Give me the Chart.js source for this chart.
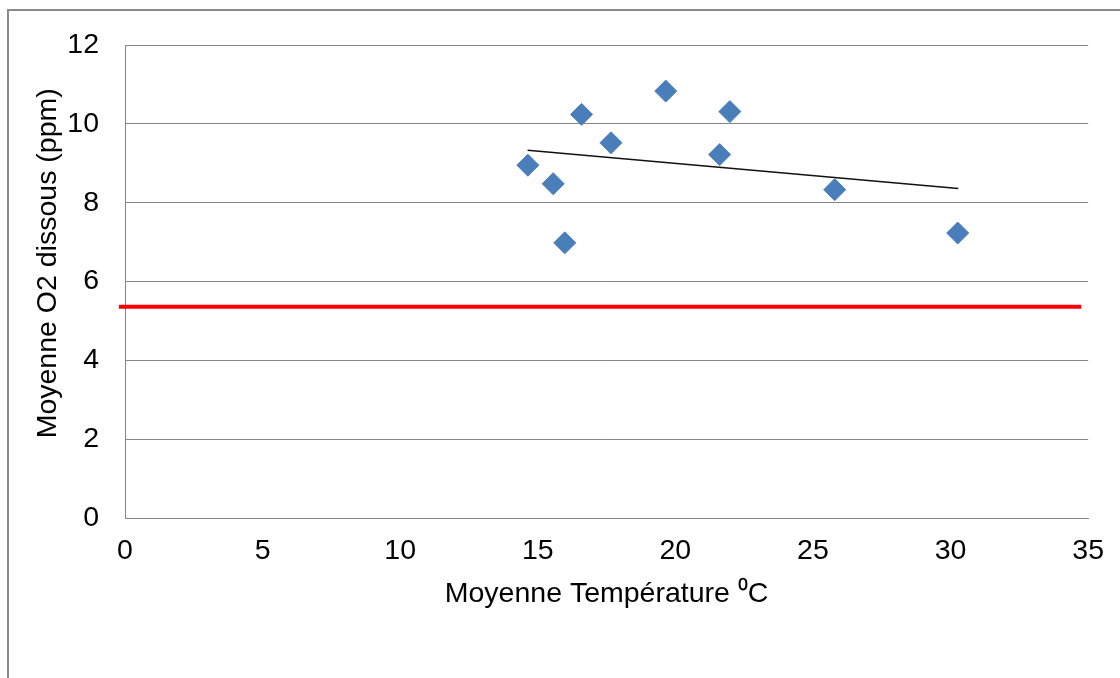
<!DOCTYPE html>
<html>
<head>
<meta charset="utf-8">
<title>O2 dissous vs température</title>
<script src="https://cdn.jsdelivr.net/npm/chart.js@4/dist/chart.umd.min.js"></script>
<style>
  html, body { margin: 0; padding: 0; background: #fff; }
  #wrap { width: 1120px; height: 678px; }
</style>
</head>
<body>
<div id="wrap"><canvas id="o2Chart" width="1120" height="678"></canvas></div>
<script>
// values
const temperatures = [14.64, 15.56, 15.98, 16.59, 17.66, 19.65, 21.61, 21.98, 25.79, 30.26];
const o2Values = [8.95, 8.48, 6.98, 10.24, 9.52, 10.83, 9.22, 10.31, 8.33, 7.23];

// linear trend (Excel), ends
const trendX = [14.63, 30.28];
const trendY = [9.33, 8.36];

// red threshold line
const limitX = [-0.22, 34.75];
const limitY = [5.36, 5.36];

const xTicks = [0, 5, 10, 15, 20, 25, 30, 35];
const yTicks = [0, 2, 4, 6, 8, 10, 12];

const FONT = "'Liberation Sans', Arial, sans-serif";

function toPoints(xs, ys) {
    return xs.map((x, i) => ({ x: x, y: ys[i] }));
}

// grey frame round the whole chart (cut off on the right and bottom)
const framePlugin = {
    id: 'frame',
    beforeDraw(chart) {
        const ctx = chart.ctx;
        ctx.save();
        ctx.strokeStyle = '#8a8a8a';
        ctx.lineWidth = 2;
        ctx.strokeRect(8, 10, chart.width + 40, chart.height + 40);
        ctx.restore();
    }
};

document.addEventListener('DOMContentLoaded', function () {
    new Chart(document.getElementById('o2Chart').getContext('2d'), {
        type: 'scatter',
        data: {
            datasets: [
                {
                    label: 'Limite',
                    type: 'line',
                    data: toPoints(limitX, limitY),
                    borderColor: '#ff0000',
                    borderWidth: 4,
                    pointRadius: 0,
                    clip: false,
                    order: 3
                },
                {
                    label: 'Tendance',
                    type: 'line',
                    data: toPoints(trendX, trendY),
                    borderColor: '#111',
                    borderWidth: 1.5,
                    pointRadius: 0,
                    order: 2
                },
                {
                    label: 'Moyenne O2 dissous',
                    data: toPoints(temperatures, o2Values),
                    pointStyle: 'rectRot',
                    pointRadius: 11,
                    backgroundColor: '#4a7ebb',
                    borderColor: '#4a7ebb',
                    borderWidth: 1,
                    order: 1
                }
            ]
        },
        options: {
            responsive: false,
            animation: false,
            layout: { padding: { left: 0, top: 45, right: 30, bottom: 0 } },
            plugins: {
                legend: { display: false },
                tooltip: { enabled: false }
            },
            scales: {
                x: {
                    type: 'linear',
                    min: xTicks[0],
                    max: xTicks[xTicks.length - 1],
                    afterBuildTicks: scale => { scale.ticks = xTicks.map(v => ({ value: v })); },
                    afterFit: scale => { scale.height = 160; },
                    grid: { display: false, drawTicks: false },
                    border: { display: true, color: '#868686', width: 1 },
                    ticks: { color: '#000', font: { family: FONT, size: 28.5 }, padding: 16 },
                    title: {
                        display: true,
                        text: 'Moyenne Température \u2070C',
                        color: '#000',
                        font: { family: FONT, size: 28.5 },
                        padding: { top: 0, bottom: 67 }
                    }
                },
                y: {
                    type: 'linear',
                    min: yTicks[0],
                    max: yTicks[yTicks.length - 1],
                    afterBuildTicks: scale => { scale.ticks = yTicks.map(v => ({ value: v })); },
                    afterFit: scale => { scale.width = 125; },
                    grid: { color: '#868686', lineWidth: 1, drawTicks: false },
                    border: { display: true, color: '#868686', width: 1 },
                    ticks: { color: '#000', font: { family: FONT, size: 28.5 }, padding: 26 },
                    title: {
                        display: true,
                        // leading spaces lift the rotated title a little, as in the original
                        text: '\u2002\u2002 Moyenne O2 dissous (ppm)',
                        color: '#000',
                        font: { family: FONT, size: 28.5 },
                        padding: { top: 31, bottom: 0 }
                    }
                }
            }
        },
        plugins: [framePlugin]
    });
});
</script>
</body>
</html>
